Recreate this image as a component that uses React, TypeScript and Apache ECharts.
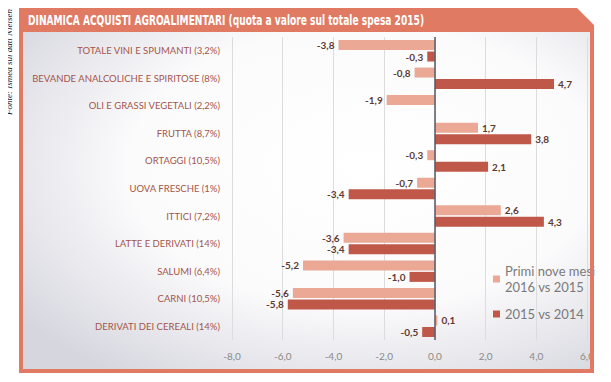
import React, { useEffect, useRef } from "react";
import * as echarts from "echarts";

const categories = [
  "TOTALE VINI E SPUMANTI (3,2%)",
  "BEVANDE ANALCOLICHE E SPIRITOSE (8%)",
  "OLI E GRASSI VEGETALI (2,2%)",
  "FRUTTA (8,7%)",
  "ORTAGGI (10,5%)",
  "UOVA FRESCHE (1%)",
  "ITTICI (7,2%)",
  "LATTE E DERIVATI (14%)",
  "SALUMI (6,4%)",
  "CARNI (10,5%)",
  "DERIVATI DEI CEREALI (14%)",
];
const seriesNames = ["Primi nove mesi\n2016 vs 2015", "2015 vs 2014"];
const nineMonths2016 = [-3.8, -0.8, -1.9, 1.7, -0.3, -0.7, 2.6, -3.6, -5.2, -5.6, 0.1];
const year2015 = [-0.3, 4.7, null, 3.8, 2.1, -3.4, 4.3, -3.4, -1.0, -5.8, -0.5];
const xTicks = { min: -8, max: 6, interval: 2 };
const titleText = "DINAMICA ACQUISTI AGROALIMENTARI (quota a valore sul totale spesa 2015)";
const sourceText = "Fonte: Ismea sui dati Nielsen";

const fmt = (v: number) => v.toFixed(1).replace(".", ",");

const SALMON = "#e07a62";
const LIGHT = "#eaa895";
const DARK = "#c0584a";

export default function App() {
  const ref = useRef<HTMLDivElement>(null);
  useEffect(() => {
    const chart = echarts.init(ref.current!, null, { renderer: "svg" });
    const mkData = (arr: (number | null)[]) =>
      arr.map((v) =>
        v === null
          ? "-"
          : {
              value: v,
              label: { position: v < 0 ? "left" : "right" },
            }
      );
    chart.setOption({
      animation: false,
      textStyle: { fontFamily: "Lato" },
      grid: { left: 232, right: 24, top: 37, bottom: 42 },
      legend: {
        orient: "vertical",
        left: 488,
        top: 258,
        itemWidth: 7,
        itemHeight: 7,
        itemGap: 11,
        icon: "rect",
        textStyle: { color: "#7a7a7a", fontSize: 13, fontFamily: "Lato", lineHeight: 16 },
        data: seriesNames,
      },
      xAxis: {
        type: "value",
        min: xTicks.min,
        max: xTicks.max,
        interval: xTicks.interval,
        axisLine: { show: false },
        axisTick: { show: false },
        splitLine: { show: true, lineStyle: { color: "#dcdcdc", width: 1 } },
        axisLabel: { color: "#8a8a8a", fontSize: 10, margin: 11, formatter: (v: number) => fmt(v) },
      },
      yAxis: {
        type: "category",
        inverse: true,
        data: categories,
        axisLine: { show: false, onZero: false },
        axisTick: { show: false },
        axisLabel: { color: "#a4554a", fontSize: 9.5, margin: 12, fontFamily: "Lato" },
      },
      series: [
        {
          name: seriesNames[0],
          type: "bar",
          data: mkData(nineMonths2016),
          barWidth: 10,
          barGap: "15%",
          itemStyle: { color: LIGHT },
          label: {
            show: true,
            color: "#5e3a32",
            fontSize: 10,
            fontWeight: "bold",
            distance: 4,
            formatter: (p: any) => fmt(p.value),
          },
        },
        {
          name: seriesNames[1],
          type: "bar",
          data: mkData(year2015),
          barWidth: 10,
          barGap: "15%",
          itemStyle: { color: DARK },
          label: {
            show: true,
            color: "#5e3a32",
            fontSize: 10,
            fontWeight: "bold",
            distance: 4,
            formatter: (p: any) => fmt(p.value),
          },
          markLine: {
            silent: true,
            symbol: "none",
            label: { show: false },
            lineStyle: { color: "#555a66", width: 1.5, type: "solid" },
            data: [{ xAxis: 0 }],
          },
        },
      ],
      graphic: [
        {
          type: "rect",
          z: -10,
          shape: { x: 22, y: 31, width: 569, height: 339 },
          style: {
            fill: new echarts.graphic.RadialGradient(0.6, 0.4, 0.75, [
              { offset: 0, color: "#ffffff" },
              { offset: 0.55, color: "#fbfbfc" },
              { offset: 1, color: "#d6d6df" },
            ]),
          },
        },
        {
          type: "polygon",
          z: 100,
          shape: { points: [[19, 6], [575, 6], [594, 25], [594, 32], [19, 32]] },
          style: { fill: SALMON },
        },
        { type: "rect", z: 100, shape: { x: 19, y: 31, width: 4, height: 342 }, style: { fill: SALMON } },
        { type: "rect", z: 100, shape: { x: 590, y: 31, width: 4, height: 342 }, style: { fill: SALMON } },
        { type: "rect", z: 100, shape: { x: 19, y: 369, width: 575, height: 4 }, style: { fill: SALMON } },
        {
          type: "text",
          z: 101,
          x: 28,
          y: 20,
          scaleX: 0.65,
          style: {
            text: titleText,
            fill: "#ffffff",
            fontFamily: "DejaVu Sans",
            fontWeight: "bold",
            fontSize: 14,
            textVerticalAlign: "middle",
          },
        },
        {
          type: "text",
          z: 101,
          x: 9,
          y: 62,
          rotation: Math.PI / 2,
          style: {
            text: sourceText,
            fill: "#111",
            fontFamily: "Liberation Serif",
            fontStyle: "italic",
            fontSize: 9,
            textAlign: "center",
            textVerticalAlign: "middle",
          },
        },
      ],
    });
    return () => chart.dispose();
  }, []);
  return <div ref={ref} style={{ width: 611, height: 382, margin: -8 }} />;
}
